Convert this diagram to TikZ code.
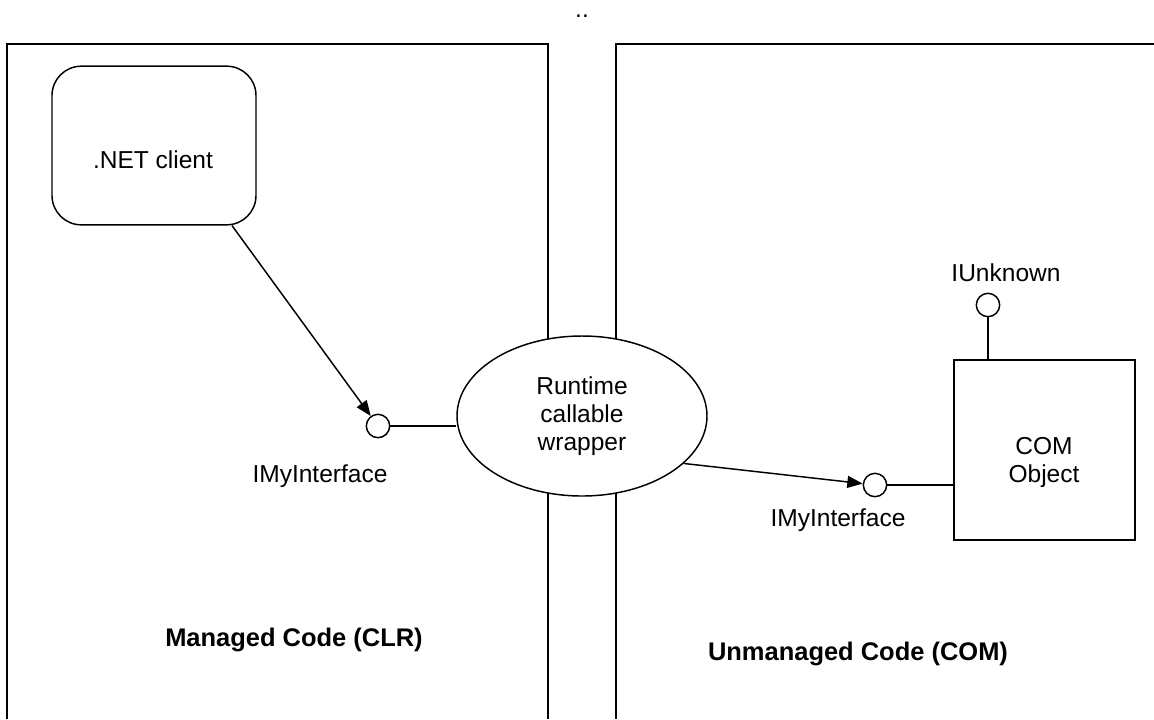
\documentclass[tikz,border=0pt]{standalone}
\usepackage{fontspec}
\setmainfont{Liberation Sans}
\usetikzlibrary{arrows.meta,calc,shapes.geometric}
\begin{document}
\begin{tikzpicture}[x=0.75pt,y=-0.75pt,
  line width=1.1pt,
  every node/.style={font=\fontsize{18.4pt}{21pt}\selectfont},
  panel/.style={draw=black},
  clientbox/.style={draw, rounded corners=22pt, minimum width=153pt, minimum height=119pt, inner sep=0pt},
  comp/.style={draw, minimum width=135.75pt, minimum height=135pt, inner sep=0pt},
  lollipop/.style={draw, circle, minimum size=17.5pt, inner sep=0pt, fill=white},
  rcwshape/.style={draw, fill=white, ellipse, minimum width=187.5pt, minimum height=120pt, inner sep=0pt, align=center},
  lbl/.style={inner sep=0pt},
  title/.style={inner sep=0pt, font=\fontsize{19.1pt}{23pt}\selectfont\bfseries},
  arrow/.style={-{Triangle[length=11.5pt,width=9pt]}},
]
\useasboundingbox (0,0) rectangle (1154,719);
\fill[white] (0,0) rectangle (1154,719);
\draw[panel] (7,719) -- (7,44) -- (548,44) -- (548,719);
\draw[panel] (1154,44) -- (616,44) -- (616,719);

\node[lbl, anchor=base, text height=3pt, text depth=0pt] (dots) at (582,17) {..};

\node[clientbox] (net) at (154,145.5) {};
\node[lbl] (nettext) at (153,160) {.NET client};
\node[lollipop] (c1) at (378,426) {};
\node[rcwshape] (rcw) at (582,416) {Runtime\\callable\\wrapper};
\node[lbl] (if1) at (320,476) {IMyInterface};
\node[lollipop] (c2) at (875,485) {};
\node[lbl] (if2) at (838,520) {IMyInterface};
\node[comp] (com) at (1044.5,450) {};
\node[lbl, align=center] (comtext) at (1044,462) {COM\\Object};
\node[lollipop] (iu) at (988,305) {};
\node[lbl] (iutext) at (1006,273) {IUnknown};
\node[title] (mc) at (294,640) {Managed Code (CLR)};
\node[title] (uc) at (858,654) {Unmanaged Code (COM)};

\draw[arrow] ($(net.south)+(78,0)$) -- (c1);
\draw (c1) -- (c1 -| rcw.west);
\draw[arrow] (rcw.-25) -- (c2);
\draw (c2) -- (c2 -| com.west);
\draw (iu) -- (iu |- com.north);
\end{tikzpicture}
\end{document}
